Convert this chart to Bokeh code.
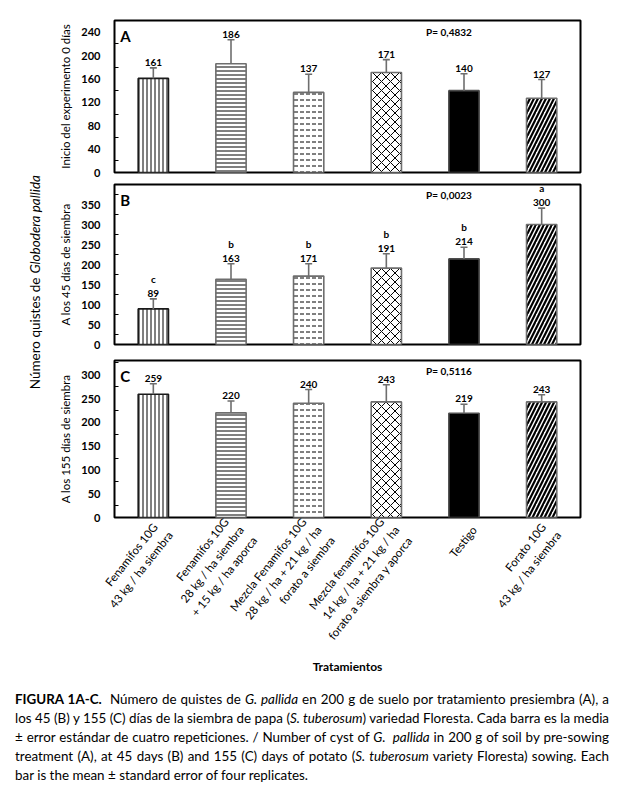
import math
from bokeh.plotting import figure
from bokeh.models import ColumnDataSource, FixedTicker, Range1d, Div, LinearAxis
from bokeh.layouts import column, row
from bokeh.core.properties import value
from bokeh.embed import file_html
from bokeh.resources import INLINE

# ---------------- data ----------------
treatments = [
    "Fenamifos  10G\n43 kg / ha siembra",
    "Fenamifos  10G\n28 kg / ha siembra\n+ 15 kg / ha aporca",
    "Mezcla Fenamifos  10G\n28 kg / ha + 21 kg / ha\nforato a siembra",
    "Mezcla fenamifos  10G\n14 kg / ha + 21 kg / ha\nforato a siembra y aporca",
    "Testigo",
    "Forato  10G\n43 kg / ha siembra",
]
mean_a = [161, 186, 137, 171, 140, 127]
se_a = [18, 41, 31, 22, 29, 32]
mean_b = [89, 163, 171, 191, 214, 300]
se_b = [25, 39, 31, 36, 29, 41]
letters_b = ["c", "b", "b", "b", "b", "a"]
mean_c = [259, 220, 240, 243, 219, 243]
se_c = [22, 25, 29, 36, 19, 15]
p_values = ["P= 0,4832", "P= 0,0023", "P= 0,5116"]
p_value_y = [240, 375, 307]
panel_names = ["A", "B", "C"]
y_titles = ["Inicio del experimento 0 días", "A los 45 días de siembra", "A los 155 días de siembra"]
y_max = [260, 400, 330]
y_ticks_a = [0, 40, 80, 120, 160, 200, 240]
y_minor_a = [20, 60, 100, 140, 180, 220]
y_ticks_bc = [0, 50, 100, 150, 200, 250, 300, 350]
y_minor_bc = [25, 75, 125, 175, 225, 275, 325, 375]

N = len(treatments)
xpos = [i + 0.5 for i in range(N)]   # category centres on a 0..N axis

# ---------------- styles ----------------
FONT = "Lato"
hatch_patterns = ["|", "-", '"', "x", " ", "/"]
hatch_scales = [4, 4, 6, 9, 12, 8]
hatch_weights = [1, 1, 1, 1, 1, 2.2]
fill_colors = ["white", "white", "white", "white", "black", "white"]
line_colors = ["#1a1a1a", "#6e6e6e", "#6e6e6e", "#6e6e6e", "#4d4d4d", "#6e6e6e"]
ERR_COLOR = "#6e6e6e"

LEFT = 66
RIGHT = 38
PW = 570
LABEL_SHIFT = 0.13   # category units, shifts rotated tick labels to the right


def make_panel(idx, means, ses, ticks, minor, height, top, bottom, letters=None, show_x=False):
    p = figure(width=PW, height=height, x_range=Range1d(0, N),
               y_range=Range1d(0, y_max[idx]),
               x_axis_location=None,
               toolbar_location=None, output_backend="svg",
               min_border_left=LEFT, min_border_right=RIGHT,
               min_border_top=top, min_border_bottom=bottom)
    p.grid.visible = False
    p.outline_line_color = "black"
    p.outline_line_width = 2
    p.background_fill_color = "white"
    p.border_fill_color = "white"

    tops = [m + s for m, s in zip(means, ses)]
    src = ColumnDataSource(dict(
        t=xpos, m=means, top=tops, lbl=[str(m) for m in means],
        hatch=hatch_patterns, hs=hatch_scales, hw=hatch_weights,
        fill=fill_colors, lc=line_colors,
        let=letters if letters else [""] * len(means),
    ))
    p.vbar(x="t", top="m", width=0.39, source=src, fill_color="fill",
           hatch_pattern="hatch", hatch_scale="hs", hatch_weight="hw",
           hatch_color="black", line_color="lc", line_width=1.6)
    p.segment(x0="t", y0="m", x1="t", y1="top", source=src,
              line_color=ERR_COLOR, line_width=1.6)
    p.scatter(x="t", y="top", marker="dash", size=7, source=src,
              line_color=ERR_COLOR, line_width=1.6)
    p.text(x="t", y="top", text="lbl", source=src, text_align="center",
           text_baseline="bottom", y_offset=-2, text_font=value(FONT),
           text_font_size="10px", text_font_style="bold", text_color="black")
    if letters:
        p.text(x="t", y="top", text="let", source=src, text_align="center",
               text_baseline="bottom", y_offset=-14, text_font=value(FONT),
               text_font_size="10px", text_font_style="bold", text_color="black")
    p.text(x=[xpos[4]], y=[p_value_y[idx]], text=[p_values[idx]],
           x_offset=-15, text_align="center", text_baseline="middle",
           text_font=value(FONT), text_font_size="10px", text_font_style="bold",
           text_color="black")
    p.text(x=[xpos[0]], y=[y_max[idx]], text=[panel_names[idx]],
           x_offset=-33, y_offset=6, text_align="left", text_baseline="top",
           text_font=value(FONT), text_font_size="15px", text_font_style="bold",
           text_color="black")

    ax = p.yaxis[0]
    ax.ticker = FixedTicker(ticks=ticks, minor_ticks=minor)
    ax.axis_line_color = None
    ax.major_tick_in = 0
    ax.major_tick_out = 0
    ax.minor_tick_in = 4
    ax.minor_tick_out = 0
    ax.minor_tick_line_color = "black"
    ax.major_label_standoff = 14
    ax.major_label_text_font = FONT
    ax.major_label_text_font_size = "11px"
    ax.major_label_text_font_style = "bold"
    ax.major_label_text_color = "black"
    ax.axis_label = y_titles[idx]
    ax.axis_label_text_font = FONT
    ax.axis_label_text_font_size = "11.5px"
    ax.axis_label_text_font_style = "normal"
    ax.axis_label_text_color = "black"
    ax.axis_label_standoff = 6

    if show_x:
        p.extra_x_ranges = {"lab": Range1d(-LABEL_SHIFT, N - LABEL_SHIFT)}
        xa = LinearAxis(x_range_name="lab", ticker=FixedTicker(ticks=xpos, minor_ticks=[]),
                        major_label_overrides={k: t for k, t in zip(xpos, treatments)})
        xa.axis_line_color = None
        xa.major_tick_line_color = None
        xa.minor_tick_line_color = None
        xa.major_label_orientation = 0.9
        xa.major_label_text_font = FONT
        xa.major_label_text_font_size = "11.5px"
        xa.major_label_text_color = "black"
        xa.major_label_text_line_height = 1.3
        xa.major_label_standoff = 4
        xa.axis_label = "Tratamientos"
        xa.axis_label_text_font = FONT
        xa.axis_label_text_font_size = "12px"
        xa.axis_label_text_font_style = "bold"
        xa.axis_label_text_color = "black"
        xa.axis_label_standoff = 0
        p.add_layout(xa, "below")
    return p


pA = make_panel(0, mean_a, se_a, y_ticks_a, y_minor_a, 178, 20, 6)
pB = make_panel(1, mean_b, se_b, y_ticks_bc, y_minor_bc, 174, 6, 8, letters=letters_b)
pC = make_panel(2, mean_c, se_c, y_ticks_bc, y_minor_bc, 325, 8, 158, show_x=True)

# shared y label
TOTAL_H = 178 + 174 + 325
p0 = figure(width=48, height=TOTAL_H, x_range=Range1d(0, 48), y_range=Range1d(TOTAL_H, 0),
            x_axis_location=None, y_axis_location=None, toolbar_location=None,
            output_backend="svg", min_border=0, outline_line_color=None)
p0.grid.visible = False
p0.text(x=[34], y=[277], text=["Número quistes de"], angle=math.pi / 2,
        text_align="right", text_baseline="middle", text_font=value(FONT),
        text_font_size="13.5px", text_color="black")
p0.text(x=[34], y=[273], text=["Globodera pallida"], angle=math.pi / 2,
        text_align="left", text_baseline="middle", text_font=value(FONT),
        text_font_size="13.5px", text_font_style="italic", text_color="black")

just = "text-align:justify;text-align-last:justify;white-space:nowrap;"
caption_html = (
    '<div style="font-family:Lato,sans-serif;font-size:13.4px;line-height:19px;'
    'color:#000;width:604px;padding:8px 0 0 10px;">'
    f'<div style="{just}"><b>FIGURA 1A-C.</b>&nbsp; Número de quistes de <i>G. pallida</i> en 200 g de suelo por tratamiento presiembra (A), a</div>'
    f'<div style="{just}">los 45 (B) y 155 (C) días de la siembra de papa (<i>S. tuberosum</i>) variedad Floresta. Cada barra es la media</div>'
    f'<div style="{just}">± error estándar de cuatro repeticiones. / Number of cyst of <i>G.&nbsp; pallida</i> in 200 g of soil by pre-sowing</div>'
    f'<div style="{just}">treatment (A), at 45 days (B) and 155 (C) days of potato (<i>S. tuberosum</i> variety Floresta) sowing. Each</div>'
    '<div style="white-space:nowrap;">bar is the mean ± standard error of four replicates.</div>'
    '</div>'
)
caption = Div(text=caption_html, width=618, height=108)

layout = column(row(p0, column(pA, pB, pC, spacing=0), spacing=0), caption, spacing=0)

open("out.html", "w").write(file_html(layout, INLINE))
